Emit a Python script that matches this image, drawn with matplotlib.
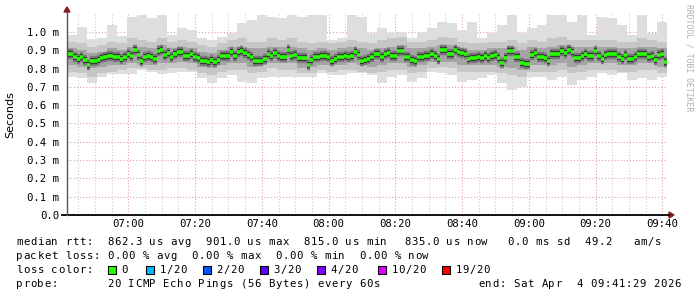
import matplotlib
matplotlib.use('Agg')
import matplotlib.pyplot as plt
from matplotlib.patches import Rectangle, Polygon
from matplotlib.lines import Line2D

# ---------------- data (milliseconds) ----------------
start_min = 41 + 29 / 60   # minutes after 06:00 (06:41:29)
median_rtt = [
    .881, .881, .863, .851, .861, .845, .820, .841, .839, .849, .856, .863, .869, .869, .865, .865, .851, .861, .880, .867,
    .900, .874, .839, .863, .869, .861, .851, .898, .901, .874, .885, .865, .880, .889, .893, .867, .867,
    .878, .861, .856, .841, .841, .838, .845, .838, .849, .867, .867, .867, .889, .867, .889, .898, .883, .872, .865, .843,
    .843, .843, .852, .880, .871, .883, .867, .861, .861, .900, .871, .874, .856, .856, .856, .818,
    .845, .863, .863, .869, .871, .861, .843, .852, .861, .863, .871, .861, .867, .889, .874, .839, .847, .852, .861, .878,
    .878, .861, .878, .885, .871, .871, .896, .896, .863, .861, .849, .843, .861, .863, .871, .871,
    .881, .871, .851, .900, .900, .881, .881, .901, .891, .883, .878, .854, .860, .858, .865, .858, .867, .858, .867, .874,
    .860, .832, .860, .898, .898, .861, .865, .832, .823, .823, .872, .887, .863, .863, .860, .841,
    .879, .879, .879, .898, .883, .899, .893, .860, .858, .869, .880, .869, .869, .896, .871, .851, .872, .880, .880, .881,
    .863, .851, .874, .851, .851, .861, .880, .880, .880, .861, .871, .845, .872, .880, .835,
]
# smoke envelopes, one value per 3-minute column
smoke_max = [
    .984, 1.029, .962, .965, 1.038, .980, 1.084, 1.093, 1.075, 1.093, .984, 1.020,
    1.011, .965, .956, .975, .993, 1.047, 1.066, 1.093, 1.084, 1.075, 1.093, 1.084,
    1.093, 1.093, .956, .965, 1.093, 1.084, .993, 1.020, .993, 1.002, .965, 1.002,
    1.020, 1.057, 1.047, 1.011, 1.057, .965, .993, 1.038, 1.093, .993, 1.020, 1.038,
    1.093, 1.093, 1.057, 1.093, .984, 1.084, 1.075, 1.038, .984, 1.093, .993, 1.057,
]
smoke_min = [
    .756, .747, .720, .756, .769, .769, .769, .792, .780, .769, .774, .783,
    .783, .747, .720, .747, .765, .729, .720, .747, .756, .756, .756, .756,
    .756, .774, .765, .765, .774, .774, .765, .720, .756, .765, .729, .747,
    .783, .774, .765, .729, .738, .747, .765, .720, .683, .701, .756, .756,
    .738, .756, .711, .738, .756, .774, .765, .774, .738, .747, .738, .756,
]
mid_hi = [
    .947, .938, .920, .929, .947, .938, .965, .956, .947, .965, .947, .956,
    .947, .929, .920, .938, .956, .965, .947, .947, .965, .956, .965, .947,
    .938, .947, .938, .947, .956, .947, .938, .956, .965, .974, .947, .947,
    .956, .974, .965, .947, .938, .938, .947, .947, .956, .938, .956, .947,
    .965, .974, .956, .956, .956, .956, .956, .947, .947, .965, .956, .947,
]
mid_lo = [
    .783, .774, .756, .774, .783, .792, .802, .802, .792, .792, .802, .802,
    .792, .774, .765, .783, .792, .792, .774, .783, .802, .792, .792, .774,
    .774, .792, .783, .792, .792, .783, .774, .783, .792, .792, .774, .783,
    .802, .811, .802, .783, .783, .783, .783, .774, .765, .756, .783, .783,
    .783, .792, .774, .783, .792, .792, .792, .783, .783, .792, .792, .774,
]
in_hi = [
    .911, .902, .883, .893, .911, .902, .920, .920, .911, .929, .911, .920,
    .911, .893, .883, .902, .920, .920, .911, .911, .920, .920, .920, .911,
    .902, .911, .902, .911, .920, .911, .902, .911, .920, .929, .911, .911,
    .920, .929, .929, .911, .902, .902, .911, .911, .920, .902, .920, .911,
    .920, .929, .920, .920, .920, .920, .920, .911, .911, .920, .920, .911,
]
in_lo = [
    .820, .811, .802, .811, .820, .820, .829, .820, .820, .829, .829, .838,
    .829, .811, .802, .820, .829, .829, .811, .820, .829, .829, .829, .802,
    .811, .820, .820, .820, .829, .820, .811, .820, .829, .829, .811, .820,
    .838, .838, .838, .820, .820, .820, .820, .811, .802, .792, .820, .820,
    .820, .829, .811, .820, .829, .829, .829, .820, .820, .829, .829, .811,
]
y_ticks = [0.0, 0.1, 0.2, 0.3, 0.4, 0.5, 0.6, 0.7, 0.8, 0.9, 1.0]
y_labels = ["0.0", "0.1 m", "0.2 m", "0.3 m", "0.4 m", "0.5 m", "0.6 m", "0.7 m", "0.8 m", "0.9 m", "1.0 m"]
x_ticks = [60, 80, 100, 120, 140, 160, 180, 200, 220]
x_labels = ["07:00", "07:20", "07:40", "08:00", "08:20", "08:40", "09:00", "09:20", "09:40"]
loss_names = ["0", "1/20", "2/20", "3/20", "4/20", "10/20", "19/20"]
loss_colors = ["#26ff00", "#00b8ff", "#0059ff", "#5e00ff", "#7e00ff", "#dd00ff", "#ff0000"]
legend_rtt = ["median rtt:", "862.3 us avg", "901.0 us max", "815.0 us min", "835.0 us now", "0.0 ms sd", "49.2   am/s"]
legend_loss = ["packet loss:", "0.00 % avg", "0.00 % max", "0.00 % min", "0.00 % now"]
probe_text = "20 ICMP Echo Pings (56 Bytes) every 60s"
end_text = "end: Sat Apr  4 09:41:29 2026"

# ---------------- figure ----------------
W, H = 697, 297
fig = plt.figure(figsize=(W / 100, H / 100), dpi=100)
fig.patch.set_facecolor('white')
px0, px1, py0, py1 = 66.5, 667.3, 14, 215
ax = fig.add_axes([px0 / W, 1 - py1 / H, (px1 - px0) / W, (py1 - py0) / H])
ax.set_facecolor('white')
t0 = start_min
t1 = t0 + 180
ax.set_xlim(t0, t1)
ax.set_ylim(0, 1.098)
for s in ax.spines.values():
    s.set_visible(False)

mono = 'DejaVu Sans Mono'

# grid
for m in range(45, 222, 5):
    if m % 20 == 0:
        continue
    ax.axvline(m, color='#c8c8c8', lw=0.75, ls=(0, (1, 2)), zorder=0)
for m in x_ticks:
    ax.axvline(m, color='#e09a9a', lw=0.75, ls=(0, (1, 2)), zorder=0)
for v in y_ticks[1:]:
    ax.axhline(v, color='#e09a9a', lw=0.75, ls=(0, (1, 2)), zorder=0)

# smoke
cx = [t0 + 3 * j for j in range(len(smoke_max))]
layers = [(smoke_min, smoke_max, '#dedede'), (mid_lo, mid_hi, '#c6c6c6'), (in_lo, in_hi, '#a4a4a4')]
for lo, hi, col in layers:
    ax.bar(cx, [h - l for h, l in zip(hi, lo)], bottom=lo, width=3, align='edge',
           color=col, linewidth=0, zorder=1)

mx = [t0 + i for i in range(len(median_rtt))]
mx_end = [m + 1 for m in mx]
ax.hlines(median_rtt, mx, mx_end, colors='#7a7a7a', lw=7.5, zorder=2, capstyle='butt')
ax.hlines(median_rtt, mx, mx_end, colors='#3a3a3a', lw=4.5, zorder=3, capstyle='butt')
ax.hlines(median_rtt, mx, mx_end, colors='#26ff00', lw=2.6, zorder=4, capstyle='butt')

# ticks
ax.set_yticks(y_ticks)
ax.set_yticklabels(y_labels, fontfamily=mono, fontsize=7.7)
ax.set_xticks(x_ticks)
ax.set_xticklabels(x_labels, fontfamily=mono, fontsize=7.7)
ax.tick_params(axis='both', length=0, colors='black')
ax.tick_params(axis='y', pad=5.4)
ax.tick_params(axis='x', pad=3.2)

# axes lines + arrows (figure pixel coords)
def fx(x):
    return x / W

def fy(y):
    return 1 - y / H

fig.add_artist(Line2D([fx(62), fx(669)], [fy(215), fy(215)], color='black', lw=1.3))
fig.add_artist(Line2D([fx(67), fx(67)], [fy(215), fy(12)], color='#555555', lw=1.0))
fig.add_artist(Polygon([[fx(669), fy(212)], [fx(669), fy(218)], [fx(674), fy(215)]], closed=True,
                       color='#8b1a1a', transform=fig.transFigure))
fig.add_artist(Polygon([[fx(64), fy(12)], [fx(70), fy(12)], [fx(67), fy(7)]], closed=True,
                       color='#8b1a1a', transform=fig.transFigure))

fig.text(fx(10), fy(115), 'Seconds', rotation=90, ha='center', va='center', fontsize=8,
         family='DejaVu Sans')
fig.text(fx(688.5), fy(58), 'RRDTOOL / TOBI OETIKER', rotation=270, ha='center', va='center',
         fontsize=5.9, family=mono, color='#b0b0b0')

# legend text, drawn on a fixed 7 px character grid like the hinted rrdtool font
FS = 7.7
PITCH = 7.0

def mtext(x, ycenter, s):
    base = ycenter + 3.8
    for i, ch in enumerate(s):
        if ch != ' ':
            fig.text(fx(x + i * PITCH + 0.4), fy(base), ch, ha='left', va='baseline',
                     family=mono, fontsize=FS)

rtt_x = [16, 107, 205, 303, 404, 507, 584]
for xs, s in zip(rtt_x, legend_rtt):
    mtext(xs, 241, s)
loss_x = [16, 107, 191, 275, 359]
for xs, s in zip(loss_x, legend_loss):
    mtext(xs, 255, s)
mtext(16, 269, 'loss color:')
sq_x = [108, 146, 203, 260, 317, 378, 442]
for xs, name, col in zip(sq_x, loss_names, loss_colors):
    fig.add_artist(Rectangle((fx(xs), fy(273.5)), 8 / W, 8 / H, facecolor=col, edgecolor='black',
                             lw=0.8, transform=fig.transFigure))
    mtext(xs + 13, 269, name)
mtext(16, 283, 'probe:')
mtext(107, 283, probe_text)
mtext(478, 283, end_text)

fig.savefig('out.png', dpi=100, facecolor='white')
